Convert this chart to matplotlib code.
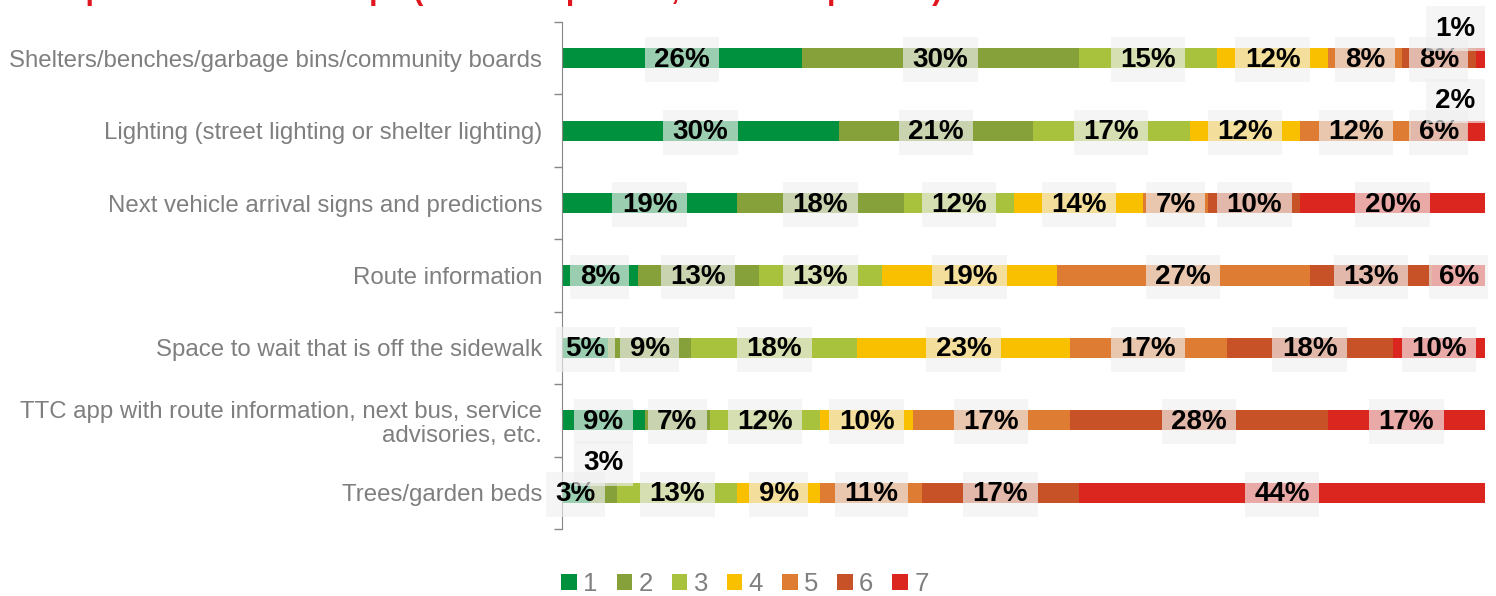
import numpy as np
import matplotlib.pyplot as plt
from matplotlib.patches import Patch

plt.rcParams['font.family'] = ['Liberation Sans', 'DejaVu Sans']

title = "Importance of bus stops (1 most important, 7 least important)"

categories = [
    "Shelters/benches/garbage bins/community boards",
    "Lighting (street lighting or shelter lighting)",
    "Next vehicle arrival signs and predictions",
    "Route information",
    "Space to wait that is off the sidewalk",
    "TTC app with route information, next bus, service\nadvisories, etc.",
    "Trees/garden beds",
]
ranks = ["1", "2", "3", "4", "5", "6", "7"]

# share of respondents per rank, one list per rank (rows follow categories)
rank1 = [26, 30, 19, 8.2, 5, 9, 3]
rank2 = [30, 21, 18, 13.1, 9, 7, 3]
rank3 = [15, 17, 12, 13.4, 18, 12, 13]
rank4 = [12, 12, 14, 18.9, 23, 10, 9]
rank5 = [8, 12, 7, 27.4, 17, 17, 11]
rank6 = [8, 6, 10, 13.3, 18, 28, 17]
rank7 = [1, 2, 20, 5.7, 10, 17, 44]

colors = ['#00913F', '#86A03A', '#A8C23D', '#F9C000', '#DE7C34', '#C75227', '#DB2620']

data = np.array([rank1, rank2, rank3, rank4, rank5, rank6, rank7])
y = np.arange(len(categories))

fig = plt.figure(figsize=(14.96, 5.96), dpi=100)
ax = fig.add_axes([562 / 1496, 1 - 529 / 596, 923 / 1496, 507 / 596])

left = np.zeros(len(categories))
for k in range(len(ranks)):
    ax.barh(y, data[k], left=left, height=0.28, color=colors[k], label=ranks[k])
    left = left + data[k]

# labels that Excel moved above the bar because the segment is too thin
lifted = {(0, 6), (1, 6), (6, 1)}
box = dict(boxstyle='square,pad=0.34', facecolor='#F0F0F0', alpha=0.65, edgecolor='none')
left = np.zeros(len(categories))
for k in range(len(ranks)):
    for i in range(len(categories)):
        v = data[k][i]
        xc = left[i] + v / 2
        yc = y[i] + 0.02
        if (i, k) in lifted:
            xc = min(xc, 96.8)
            yc = y[i] - 0.41
        ax.text(xc, yc, f"{v:.0f}%", ha='center', va='center', fontsize=20,
                fontweight='bold', color='black', bbox=box, clip_on=False)
    left = left + data[k]

ax.set_xlim(0, 100)
ax.set_ylim(len(categories) - 0.5, -0.5)
ax.set_xticks([])
ax.set_yticks(np.arange(len(categories) + 1) - 0.5)
ax.set_yticklabels([])
ax.set_yticks(y, minor=True)
ax.set_yticklabels(categories, minor=True, fontsize=17.3, color='#7F7F7F', linespacing=1.1)
ax.tick_params(axis='y', which='major', length=6, color='#868686', width=1)
ax.tick_params(axis='y', which='minor', length=0, pad=14.4)
for s in ['top', 'right', 'bottom']:
    ax.spines[s].set_visible(False)
ax.spines['left'].set_color('#868686')

handles = [Patch(facecolor=c, edgecolor='none') for c in colors]
leg = fig.legend(handles, ranks, loc='center', bbox_to_anchor=(0.498, 1 - 584 / 596),
                 ncol=7, frameon=False, fontsize=18.5, handlelength=0.6, handleheight=0.6,
                 handletextpad=0.25, columnspacing=0.74)
for t in leg.get_texts():
    t.set_color('#7F7F7F')

fig.text(50 / 1496, 1 + 1 / 596, title, color='#E0161E', fontsize=22, fontweight='bold',
         va='baseline', ha='left')

fig.savefig('out.png', dpi=100)
